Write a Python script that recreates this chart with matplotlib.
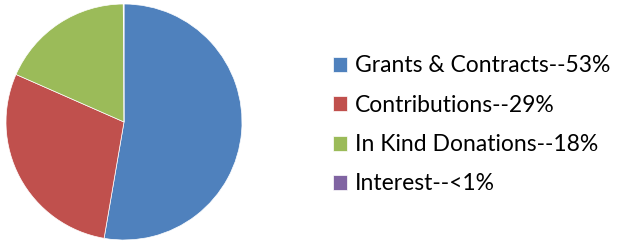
import matplotlib
matplotlib.use("Agg")
import matplotlib.pyplot as plt

labels = ["Grants & Contracts--53%", "Contributions--29%", "In Kind Donations--18%", "Interest--<1%"]
values = [52.7, 28.9, 18.3, 0.1]
colors = ["#4F81BD", "#C0504D", "#9BBB59", "#8064A2"]

plt.rcParams['font.family'] = ['Lato', 'DejaVu Sans']

fig = plt.figure(figsize=(6.27, 2.41), dpi=100)
ax = fig.add_axes([6/627, 1/241, 236/627, 236/241])
wedges, _ = ax.pie(values, colors=colors, startangle=90, counterclock=False,
                   wedgeprops=dict(edgecolor="white", linewidth=0.5))
ax.set_xlim(-1, 1)
ax.set_ylim(-1, 1)
ax.set_aspect("equal")
ax.axis("off")

leg = fig.legend(wedges, labels, loc="center left", bbox_to_anchor=(333/627, 1 - 125/241),
                 frameon=False, fontsize=16.5, handlelength=0.62, handleheight=0.62,
                 handletextpad=0.35, labelspacing=0.8, borderpad=0, borderaxespad=0)
fig.savefig("out.png", dpi=100)
